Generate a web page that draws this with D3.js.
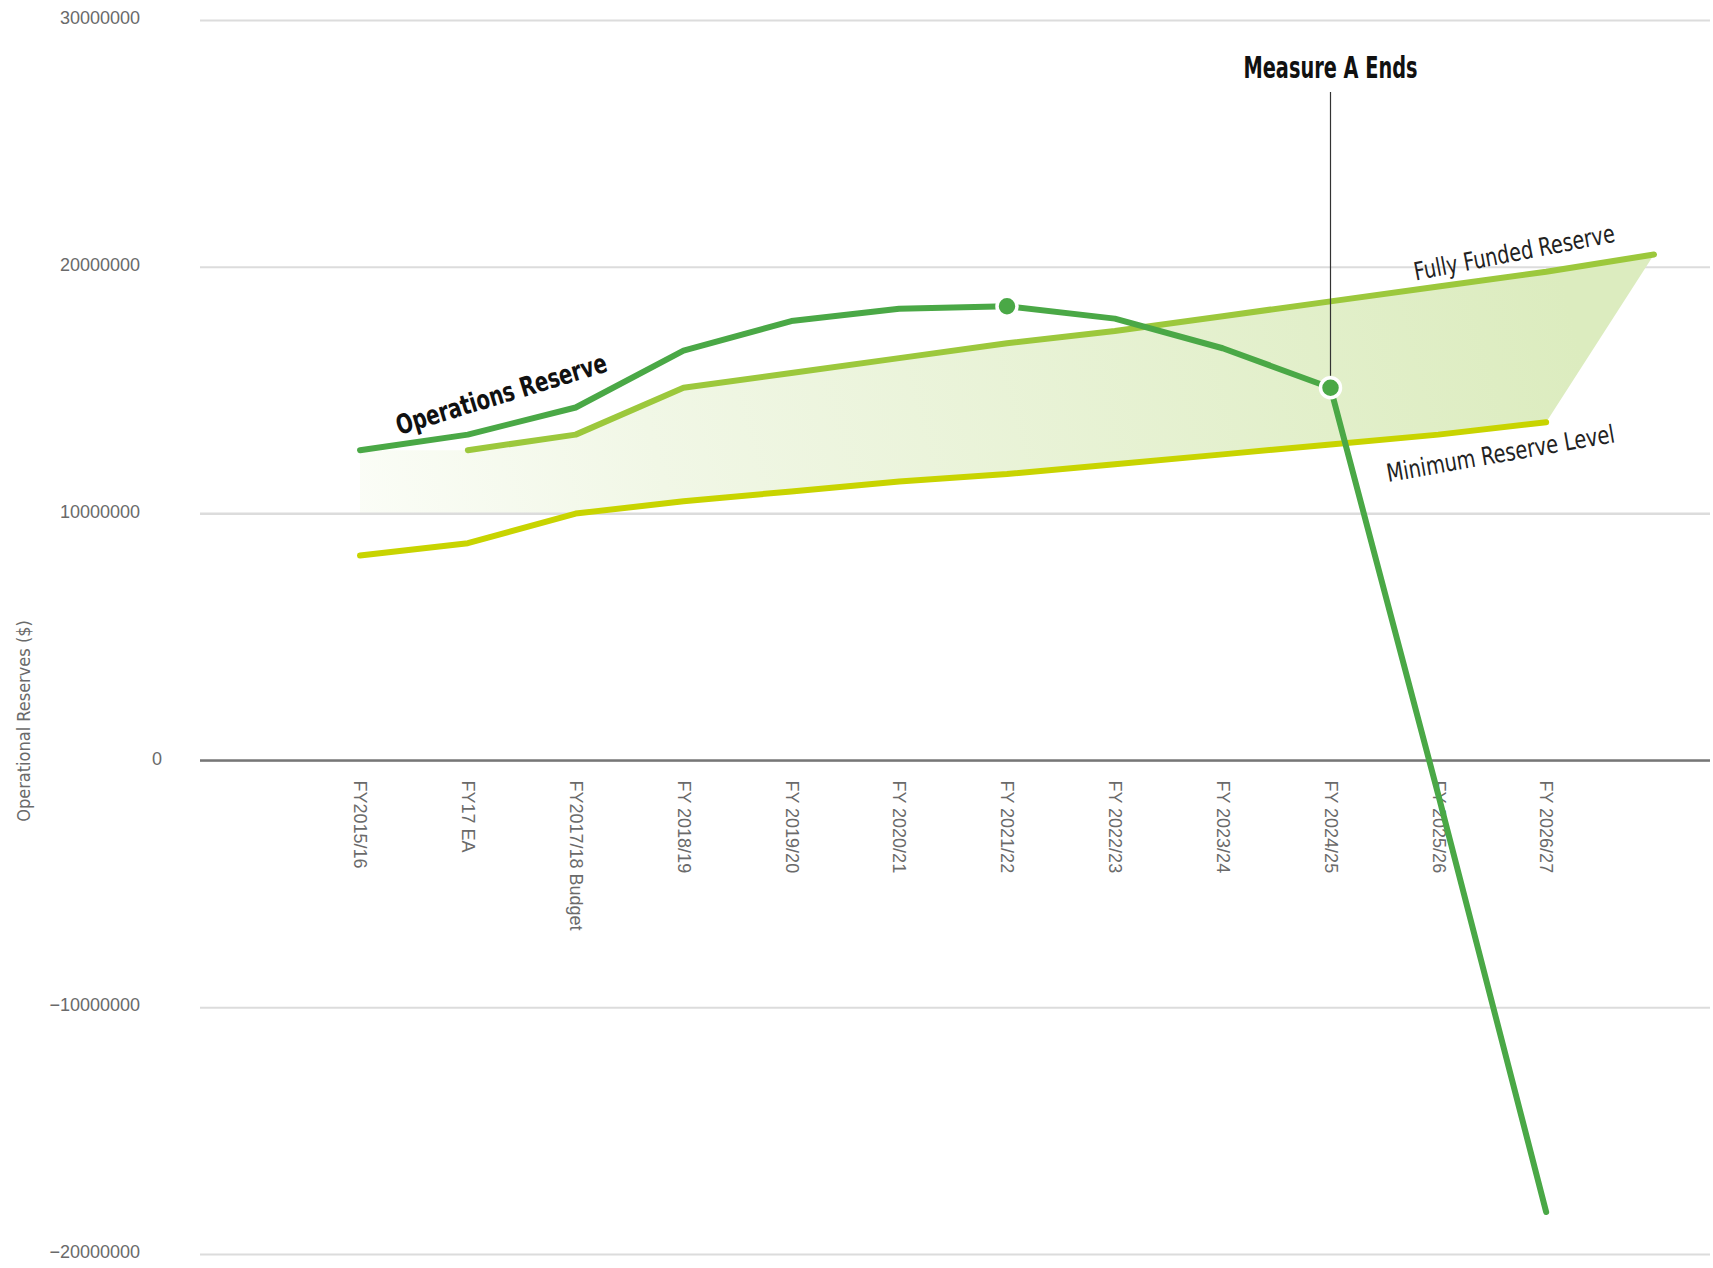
<!DOCTYPE html>
<head>
<meta charset="utf-8">
<style>
body { margin: 0; background: #fff; }
svg { font-family: "Liberation Sans Narrow", "DejaVu Sans Condensed", "DejaVu Sans", sans-serif; font-stretch: condensed; }
.grid line { stroke: #dcdcdc; stroke-width: 2px; }
.grid path { display: none; }
.grid text { fill: #6a6a6a; font-size: 18px; }
.xaxis path { display: none; }
.xaxis line { display: none; }
.xaxis text { fill: #6a6a6a; font-size: 18px; }
.series { fill: none; stroke-width: 6px; stroke-linecap: round; stroke-linejoin: round; }
</style>
</head>
<body>

<script src="https://cdn.jsdelivr.net/npm/d3@7"></script>
<script>
// fiscal years (last slot has no label, only the fully funded line reaches it)
var years = ["FY2015/16", "FY17 EA", "FY2017/18 Budget", "FY 2018/19", "FY 2019/20", "FY 2020/21",
  "FY 2021/22", "FY 2022/23", "FY 2023/24", "FY 2024/25", "FY 2025/26", "FY 2026/27", ""];

var operations = [12.57e6, 13.2e6, 14.3e6, 16.6e6, 17.8e6, 18.3e6, 18.4e6, 17.9e6, 16.7e6, 15.1e6, -1.4e6, -18.3e6];
var fullyFunded = [null, 12.57e6, 13.2e6, 15.1e6, 15.7e6, 16.3e6, 16.9e6, 17.4e6, 18.0e6, 18.6e6, 19.2e6, 19.8e6, 20.5e6];
var minimum = [8.3e6, 8.8e6, 10.0e6, 10.5e6, 10.9e6, 11.3e6, 11.6e6, 12.0e6, 12.4e6, 12.8e6, 13.2e6, 13.7e6];

var yTicks = [-20000000, -10000000, 0, 10000000, 20000000, 30000000];
var markedYears = ["FY 2021/22", "FY 2024/25"];

var svg = d3.select("body").append("svg")
  .attr("width", 1713)
  .attr("height", 1268);

var x = d3.scalePoint().domain(d3.range(years.length)).range([360, 1654]);
var y = d3.scaleLinear().domain([-20000000, 30000000]).range([1254, 20]);

var gridLeft = 200, gridRight = 1710;

// gradient for the shaded band
var defs = svg.append("defs");
var grad = defs.append("linearGradient")
  .attr("id", "band")
  .attr("gradientUnits", "userSpaceOnUse")
  .attr("x1", x(0)).attr("y1", y(9e6))
  .attr("x2", x(11)).attr("y2", y(22e6));
grad.append("stop").attr("offset", "0%").attr("stop-color", "#fbfdf7");
grad.append("stop").attr("offset", "25%").attr("stop-color", "#f1f7e6");
grad.append("stop").attr("offset", "100%").attr("stop-color", "#dcecbf");

var grid = svg.append("g")
  .attr("class", "grid")
  .attr("transform", "translate(" + gridLeft + ",0)")
  .call(d3.axisLeft(y).tickValues(yTicks).tickSize(-(gridRight - gridLeft)).tickPadding(60).tickFormat(d3.format("d")));
grid.selectAll("text").attr("dy", "0.2em");
// the zero label sits closer to the axis in the original
grid.selectAll(".tick").filter(function(d) { return d === 0; }).select("text").attr("x", -38);

// shaded band: top = operations start + fully funded, bottom = minimum level
var bandPts = [];
bandPts.push([x(0), y(operations[0])]);
for (var i = 1; i < years.length; i++) bandPts.push([x(i), y(fullyFunded[i])]);
for (var j = minimum.length - 1; j >= 0; j--) bandPts.push([x(j), y(Math.max(minimum[j], 10e6))]);
svg.append("path")
  .attr("d", "M" + bandPts.join("L") + "Z")
  .attr("fill", "url(#band)");

// keep the 10M grid line visible over the band
svg.append("line")
  .attr("x1", gridLeft).attr("x2", gridRight)
  .attr("y1", y(10e6)).attr("y2", y(10e6))
  .attr("stroke", "#dcdcdc").attr("stroke-width", 2);

// zero line
svg.append("line")
  .attr("x1", gridLeft).attr("x2", gridRight)
  .attr("y1", y(0)).attr("y2", y(0))
  .attr("stroke", "#777").attr("stroke-width", 2.5);

var xAxis = svg.append("g")
  .attr("class", "xaxis")
  .attr("transform", "translate(0," + y(0) + ")")
  .call(d3.axisBottom(x).tickSize(0).tickFormat(function(i) { return years[i]; }));
xAxis.selectAll("text")
  .attr("text-anchor", "start")
  .attr("transform", "rotate(90)")
  .attr("x", 20)
  .attr("y", 0)
  .attr("dy", "0.35em");

var line = d3.line()
  .defined(function(d) { return d != null; })
  .x(function(d, i) { return x(i); })
  .y(function(d) { return y(d); });

svg.append("path").attr("class", "series").attr("stroke", "#c8d400").attr("d", line(minimum));
svg.append("path").attr("class", "series").attr("stroke", "#9cc83c").attr("d", line(fullyFunded));
svg.append("path").attr("class", "series").attr("stroke", "#4aa846").attr("d", line(operations));

// marked points
markedYears.forEach(function(yr) {
  var i = years.indexOf(yr);
  svg.append("circle")
    .attr("cx", x(i)).attr("cy", y(operations[i]))
    .attr("r", 10)
    .attr("fill", "#4aa846")
    .attr("stroke", "#fff")
    .attr("stroke-width", 3.5);
});

// Measure A annotation
var mi = years.indexOf("FY 2024/25");
svg.append("line")
  .attr("x1", x(mi)).attr("x2", x(mi))
  .attr("y1", 92).attr("y2", y(operations[mi]) - 12)
  .attr("stroke", "#333").attr("stroke-width", 1.2);
svg.append("text")
  .attr("x", x(mi)).attr("y", 78)
  .attr("text-anchor", "middle")
  .attr("font-size", 30).attr("font-weight", "bold").attr("fill", "#111")
  .attr("textLength", 174).attr("lengthAdjust", "spacingAndGlyphs")
  .text("Measure A Ends");

// series labels
svg.append("text")
  .attr("transform", "translate(504,403) rotate(-17)")
  .attr("text-anchor", "middle")
  .attr("font-size", 27).attr("font-weight", "bold").attr("fill", "#111")
  .attr("textLength", 219).attr("lengthAdjust", "spacingAndGlyphs")
  .text("Operations Reserve");

svg.append("text")
  .attr("transform", "translate(1516,261) rotate(-11)")
  .attr("text-anchor", "middle")
  .attr("font-size", 25).attr("fill", "#222")
  .attr("textLength", 204).attr("lengthAdjust", "spacingAndGlyphs")
  .text("Fully Funded Reserve");

svg.append("text")
  .attr("transform", "translate(1502,462) rotate(-10)")
  .attr("text-anchor", "middle")
  .attr("font-size", 25).attr("fill", "#222")
  .attr("textLength", 231).attr("lengthAdjust", "spacingAndGlyphs")
  .text("Minimum Reserve Level");

// y axis title
svg.append("text")
  .attr("transform", "translate(30,721) rotate(-90)")
  .attr("text-anchor", "middle")
  .attr("font-size", 18).attr("fill", "#6a6a6a")
  .text("Operational Reserves ($)");
</script>
</body>
